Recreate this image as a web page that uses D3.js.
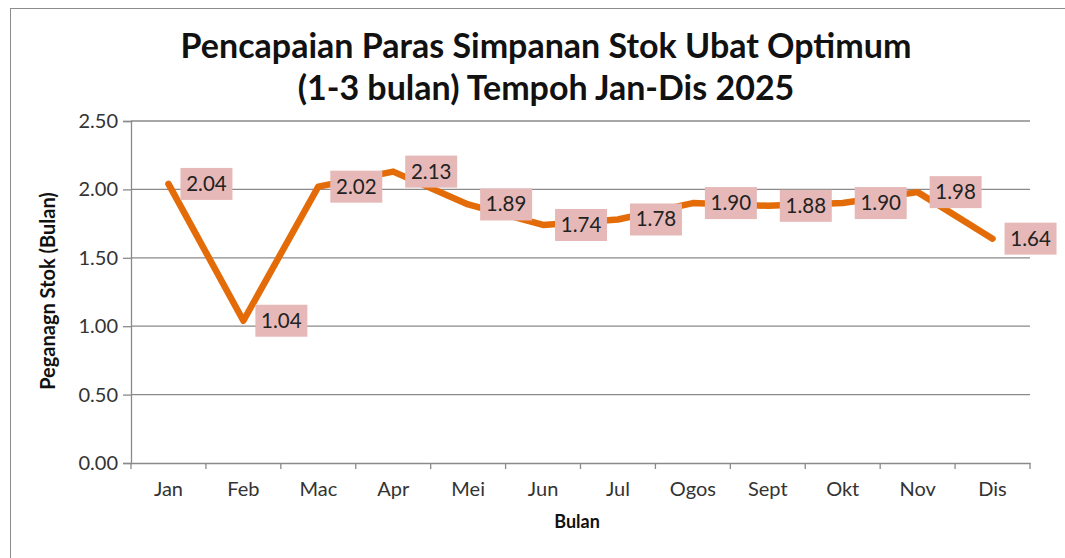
<!DOCTYPE html>
<html><head><meta charset="utf-8">
<script src="https://cdn.jsdelivr.net/npm/d3@7"></script>
<style>
body{margin:0;background:#fff;}
text{font-family:Lato,"Open Sans",sans-serif;}
</style></head>
<body><svg id="c" width="1065" height="558"></svg>
<script>
const months = ["Jan","Feb","Mac","Apr","Mei","Jun","Jul","Ogos","Sept","Okt","Nov","Dis"];
const values = [2.04,1.04,2.02,2.13,1.89,1.74,1.78,1.90,1.88,1.90,1.98,1.64];
const yTicks = [0,0.5,1.0,1.5,2.0,2.5];
const titleLines = ["Pencapaian Paras Simpanan Stok Ubat Optimum","(1-3 bulan) Tempoh Jan-Dis 2025"];
const yLabel = "Peganagn Stok (Bulan)";
const xLabel = "Bulan";

const svg = d3.select("#c");
svg.append("rect").attr("x",10.5).attr("y",8.5).attr("width",1100).attr("height",600)
  .attr("fill","none").attr("stroke","#8c8c8c").attr("stroke-width",1);

const L=131, R=1030, T=121, B=463;
const x = d3.scaleBand().domain(months).range([L,R]);
const y = d3.scaleLinear().domain([0,2.5]).range([B,T]);

// gridlines
svg.append("g").selectAll("line").data(yTicks.filter(d=>d>0)).join("line")
  .attr("x1",L).attr("x2",R).attr("y1",d=>y(d)).attr("y2",d=>y(d))
  .attr("stroke","#8a8a8a").attr("stroke-width",1.3);

// y axis
const ya = svg.append("g").attr("transform",`translate(${L},0)`)
  .call(d3.axisLeft(y).tickValues(yTicks).tickFormat(d3.format(".2f")).tickSize(8).tickPadding(5));
ya.select(".domain").attr("stroke","#8a8a8a").attr("stroke-width",1.3);
ya.selectAll(".tick line").attr("stroke","#8a8a8a").attr("stroke-width",1.3);
ya.selectAll("text").attr("font-size",20).attr("fill","#333").attr("font-family","Lato,'Open Sans',sans-serif");

// x axis
const xa = svg.append("g").attr("transform",`translate(0,${B})`)
  .call(d3.axisBottom(x).tickSize(0).tickPadding(19));
xa.select(".domain").attr("stroke","#8a8a8a").attr("stroke-width",1.3);
xa.selectAll("text").attr("font-size",20).attr("fill","#333").attr("font-family","Lato,'Open Sans',sans-serif");
// boundary ticks
const bounds = months.map(m=>x(m)).concat([R]);
svg.append("g").selectAll("line").data(bounds).join("line")
  .attr("x1",d=>d).attr("x2",d=>d).attr("y1",B).attr("y2",B+6)
  .attr("stroke","#8a8a8a").attr("stroke-width",1.3);

// line
const cx = m => x(m)+x.bandwidth()/2;
const line = d3.line().x((d,i)=>cx(months[i])).y(d=>y(d));
svg.append("path").datum(values).attr("d",line)
  .attr("fill","none").attr("stroke","#E36C09").attr("stroke-width",6.5)
  .attr("stroke-linejoin","round").attr("stroke-linecap","round");

// labels
const lg = svg.append("g").selectAll("g").data(values).join("g")
  .attr("transform",(d,i)=>`translate(${cx(months[i])+12},${y(d)})`);
lg.append("rect").attr("x",0).attr("y",-16).attr("width",52).attr("height",32).attr("fill","#E6B9B8");
lg.append("text").attr("x",26).attr("y",7).attr("text-anchor","middle").attr("font-size",20.5)
  .attr("fill","#222").text(d=>d.toFixed(2));

// titles
svg.append("g").selectAll("text").data(titleLines).join("text")
  .attr("x",546).attr("y",(d,i)=>58+i*42).attr("text-anchor","middle")
  .attr("font-size",34).attr("font-weight","bold").attr("fill","#111").text(d=>d);

svg.append("text").attr("transform","translate(55,291) rotate(-90)").attr("text-anchor","middle")
  .attr("font-size",20).attr("font-weight","bold").attr("fill","#111").text(yLabel);
svg.append("text").attr("x",577).attr("y",528).attr("text-anchor","middle")
  .attr("font-size",18).attr("font-weight","bold").attr("fill","#111").text(xLabel);
</script></body></html>
